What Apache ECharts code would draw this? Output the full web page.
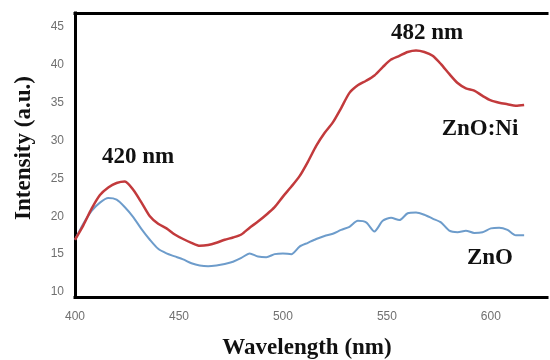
<!DOCTYPE html>
<html>
<head>
<meta charset="utf-8">
<script src="https://cdn.jsdelivr.net/npm/echarts@6/dist/echarts.min.js"></script>
<style>html,body{margin:0;padding:0;background:#fff}#c{width:550px;height:360px}</style>
</head>
<body>
<div id="c"></div>
<script>
const wavelengths = [400,404,408,412,416,420,424,428,432,436,440,444,448,452,456,460,464,468,472,476,480,484,488,492,496,500,504,508,512,516,520,524,528,532,536,540,544,548,552,556,560,564,568,572,576,580,584,588,592,596,600,604,608,612,616];
const znoNi = [16.9,18.8,21.0,22.8,23.8,24.4,24.6,23.5,21.8,20.0,19.0,18.4,17.6,17.0,16.5,16.1,16.2,16.5,16.9,17.2,17.6,18.5,19.3,20.2,21.2,22.6,23.9,25.3,27.2,29.3,31.0,32.4,34.3,36.3,37.3,37.9,38.6,39.7,40.7,41.2,41.7,41.9,41.7,41.2,40.1,38.8,37.6,36.9,36.6,35.9,35.3,35.0,34.8,34.6,34.7];
const zno = [16.9,19.0,20.7,21.8,22.4,22.2,21.2,19.9,18.3,16.9,15.7,15.1,14.7,14.3,13.8,13.5,13.4,13.5,13.7,14.0,14.5,15.1,14.7,14.6,15.0,15.1,15.0,16.0,16.5,17.0,17.4,17.7,18.2,18.6,19.4,19.2,18.0,19.4,19.8,19.5,20.4,20.5,20.2,19.7,19.2,18.1,17.9,18.1,17.8,17.9,18.4,18.5,18.2,17.5,17.5];
const yTicks = [10,15,20,25,30,35,40,45];
const xTitle = 'Wavelength (nm)';
const yTitle = 'Intensity (a.u.)';
const annotations = ['420 nm','482 nm','ZnO:Ni','ZnO'];

const chart = echarts.init(document.getElementById('c'));
const serif = '"Liberation Serif","DejaVu Serif",serif';
const pair = (xs, ys) => xs.map((x, i) => [x, ys[i]]);
const txt = (text, x, y, extra) => Object.assign({
  type: 'text', x: x, y: y,
  style: { text: text, font: 'bold 23px ' + serif, fill: '#111', align: 'center', verticalAlign: 'middle' }
}, extra || {});
const frame = { show: true, onZero: false, lineStyle: { color: '#000', width: 3, cap: 'square' } };
const labelFont = { color: '#707070', fontSize: 12, fontFamily: '"Liberation Sans",sans-serif' };

chart.setOption({
  animation: false,
  grid: { left: 75, top: 13, bottom: 63, right: 0 },
  xAxis: [{
    type: 'value', min: 400, max: 627, interval: 50, position: 'bottom',
    axisLine: frame, axisTick: { show: false }, splitLine: { show: false },
    axisLabel: Object.assign({ margin: 14, formatter: v => (v % 50 === 0 && v <= 600) ? String(v) : '' }, labelFont)
  }, {
    type: 'value', min: 400, max: 627, position: 'top',
    axisLine: frame, axisTick: { show: false }, splitLine: { show: false }, axisLabel: { show: false }
  }],
  yAxis: {
    type: 'value', min: 9.34, max: 46.85,
    axisLine: frame, axisTick: { show: false }, splitLine: { show: false },
    axisLabel: Object.assign({ margin: 11, customValues: yTicks }, labelFont)
  },
  series: [
    { name: 'ZnO:Ni', type: 'line', data: pair(wavelengths, znoNi), showSymbol: false, smooth: 0.25,
      lineStyle: { color: '#c23a3c', width: 2.5 }, z: 3 },
    { name: 'ZnO', type: 'line', data: pair(wavelengths, zno), showSymbol: false, smooth: 0.25,
      lineStyle: { color: '#6d9ccb', width: 2 }, z: 2 }
  ],
  graphic: [
    txt(annotations[0], 138, 157),
    txt(annotations[1], 427, 33),
    txt(annotations[2], 480, 129),
    txt(annotations[3], 490, 258),
    txt(xTitle, 307, 348),
    txt(yTitle, 24, 148, { rotation: Math.PI / 2 })
  ]
});
</script>
</body>
</html>
